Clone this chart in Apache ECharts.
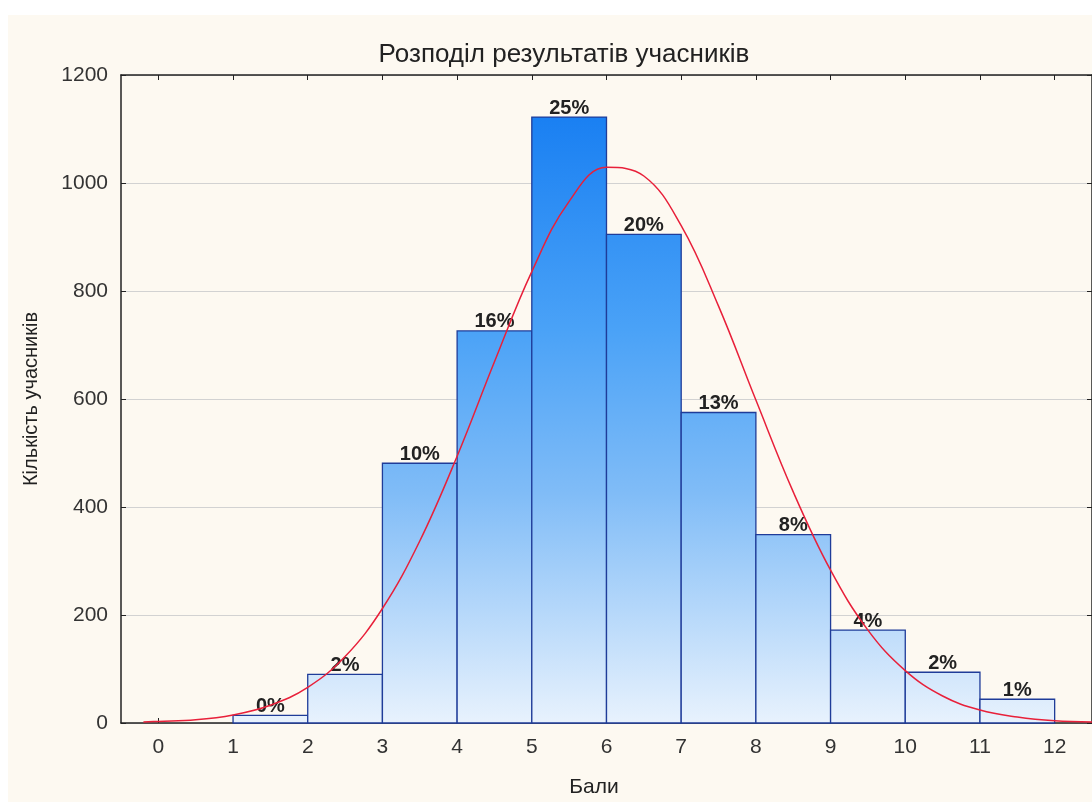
<!DOCTYPE html>
<html>
<head>
<meta charset="utf-8">
<script src="https://cdn.jsdelivr.net/npm/echarts@6/dist/echarts.min.js"></script>
<style>
html,body{margin:0;padding:0;background:#ffffff;width:1092px;height:802px;overflow:hidden;}
#c{position:absolute;left:8px;top:15px;width:1084px;height:787px;background:#fdf9f1;}
</style>
</head>
<body>
<div id="c"></div>
<script>
// Histogram bins (start, end) and counts
const binStarts = [1, 2, 3, 4, 5, 6, 7, 8, 9, 10, 11];
const binEnds   = [2, 3, 4, 5, 6, 7, 8, 9, 10, 11, 12];
const counts    = [14, 90, 481, 726, 1122, 905, 575, 349, 172, 94, 44];
const percentLabels = ['0%', '2%', '10%', '16%', '25%', '20%', '13%', '8%', '4%', '2%', '1%'];

// Fitted curve points
const curveX = [-0.2, 0, 0.5, 1, 1.5, 2, 2.5, 3, 3.5, 4, 4.5, 5, 5.5, 6, 6.5, 7, 7.5, 8, 8.5, 9, 9.5, 10, 10.5, 11, 11.5, 12, 12.5];
const curveY = [2, 3, 6, 15, 33, 66, 123, 212, 337, 494, 669, 836, 966, 1029, 1013, 921, 772, 598, 428, 283, 172, 97, 50, 24, 11, 4, 2];

const xTicks = [0, 1, 2, 3, 4, 5, 6, 7, 8, 9, 10, 11, 12];
const yTicks = [0, 200, 400, 600, 800, 1000, 1200];

const titleText = 'Розподіл результатів учасників';
const xName = 'Бали';
const yName = 'Кількість учасників';

const chart = echarts.init(document.getElementById('c'), null, {renderer: 'canvas'});

const histData = binStarts.map((s, i) => [s, binEnds[i], counts[i]]);
const curveData = curveX.map((x, i) => [x, curveY[i]]);

const FONT = '"Liberation Sans", Arial, sans-serif';

const option = {
  backgroundColor: '#fdf9f1',
  animation: false,
  title: [
    {text: titleText, left: 551, top: 22, textAlign: 'center',
     textStyle: {fontFamily: FONT, fontSize: 26, fontWeight: 'normal', color: '#222'}},
    {text: xName, left: 581, top: 757, textAlign: 'center',
     textStyle: {fontFamily: FONT, fontSize: 21, fontWeight: 'normal', color: '#222'}}
  ],
  grid: {left: 113, top: 60, width: 976, height: 648, containLabel: false},
  xAxis: [
    {type: 'value', min: -0.5, max: 12.5, position: 'bottom',
     axisLine: {show: true, onZero: false, lineStyle: {color: '#222', width: 1.5}},
     axisTick: {show: true, inside: true, length: 5, customValues: xTicks, lineStyle: {color: '#222'}},
     axisLabel: {show: true, customValues: xTicks, margin: 14, fontFamily: FONT, fontSize: 21, color: '#333'},
     splitLine: {show: false}},
    {type: 'value', min: -0.5, max: 12.5, position: 'top',
     axisLine: {show: true, onZero: false, lineStyle: {color: '#222', width: 1.5}},
     axisTick: {show: true, inside: true, length: 5, customValues: xTicks, lineStyle: {color: '#222'}},
     axisLabel: {show: false, customValues: xTicks},
     splitLine: {show: false}}
  ],
  yAxis: [
    {type: 'value', min: 0, max: 1200, interval: 200, position: 'left',
     name: yName, nameLocation: 'middle', nameGap: 80,
     nameTextStyle: {fontFamily: FONT, fontSize: 20, color: '#222'},
     axisLine: {show: true, onZero: false, lineStyle: {color: '#222', width: 1.5}},
     axisTick: {show: true, inside: true, length: 5, lineStyle: {color: '#222'}},
     axisLabel: {show: true, margin: 13, fontFamily: FONT, fontSize: 21, color: '#333',
                 formatter: function (v) { return String(v); }},
     splitLine: {show: true, lineStyle: {color: '#d2d2d2', width: 1.2}}},
    {type: 'value', min: 0, max: 1200, interval: 200, position: 'right',
     axisLine: {show: true, onZero: false, lineStyle: {color: '#222', width: 1.5}},
     axisTick: {show: true, inside: true, length: 5, lineStyle: {color: '#222'}},
     axisLabel: {show: false},
     splitLine: {show: false}}
  ],
  series: [
    {
      type: 'custom',
      xAxisIndex: 0, yAxisIndex: 0,
      data: histData,
      renderItem: function (params, api) {
        const x0 = api.value(0), x1 = api.value(1), v = api.value(2);
        const pTop = api.coord([x0, v]);
        const pBot = api.coord([x1, 0]);
        const gTop = api.coord([0, 1120])[1];
        const gBot = api.coord([0, 0])[1];
        const grad = new echarts.graphic.LinearGradient(0, gTop, 0, gBot, [
          {offset: 0, color: '#1a80f2'},
          {offset: 0.35, color: '#4aa2f7'},
          {offset: 0.62, color: '#80bcf7'},
          {offset: 1, color: '#e8f2fd'}
        ], true);
        return {
          type: 'group',
          children: [
            {type: 'rect',
             shape: {x: pTop[0], y: pTop[1], width: pBot[0] - pTop[0], height: pBot[1] - pTop[1]},
             style: {fill: grad, stroke: '#1f3c99', lineWidth: 1.3}},
            {type: 'text',
             x: (pTop[0] + pBot[0]) / 2, y: pTop[1] + 1,
             style: {text: percentLabels[params.dataIndex], align: 'center', verticalAlign: 'bottom',
                     font: 'bold 20px ' + FONT, fill: '#222'}}
          ]
        };
      },
      z: 2
    },
    {
      type: 'line',
      xAxisIndex: 0, yAxisIndex: 0,
      data: curveData,
      smooth: 0.4,
      showSymbol: false,
      symbol: 'none',
      lineStyle: {color: '#e8203a', width: 1.5},
      clip: true,
      z: 3
    }
  ]
};
chart.setOption(option);
</script>
</body>
</html>
